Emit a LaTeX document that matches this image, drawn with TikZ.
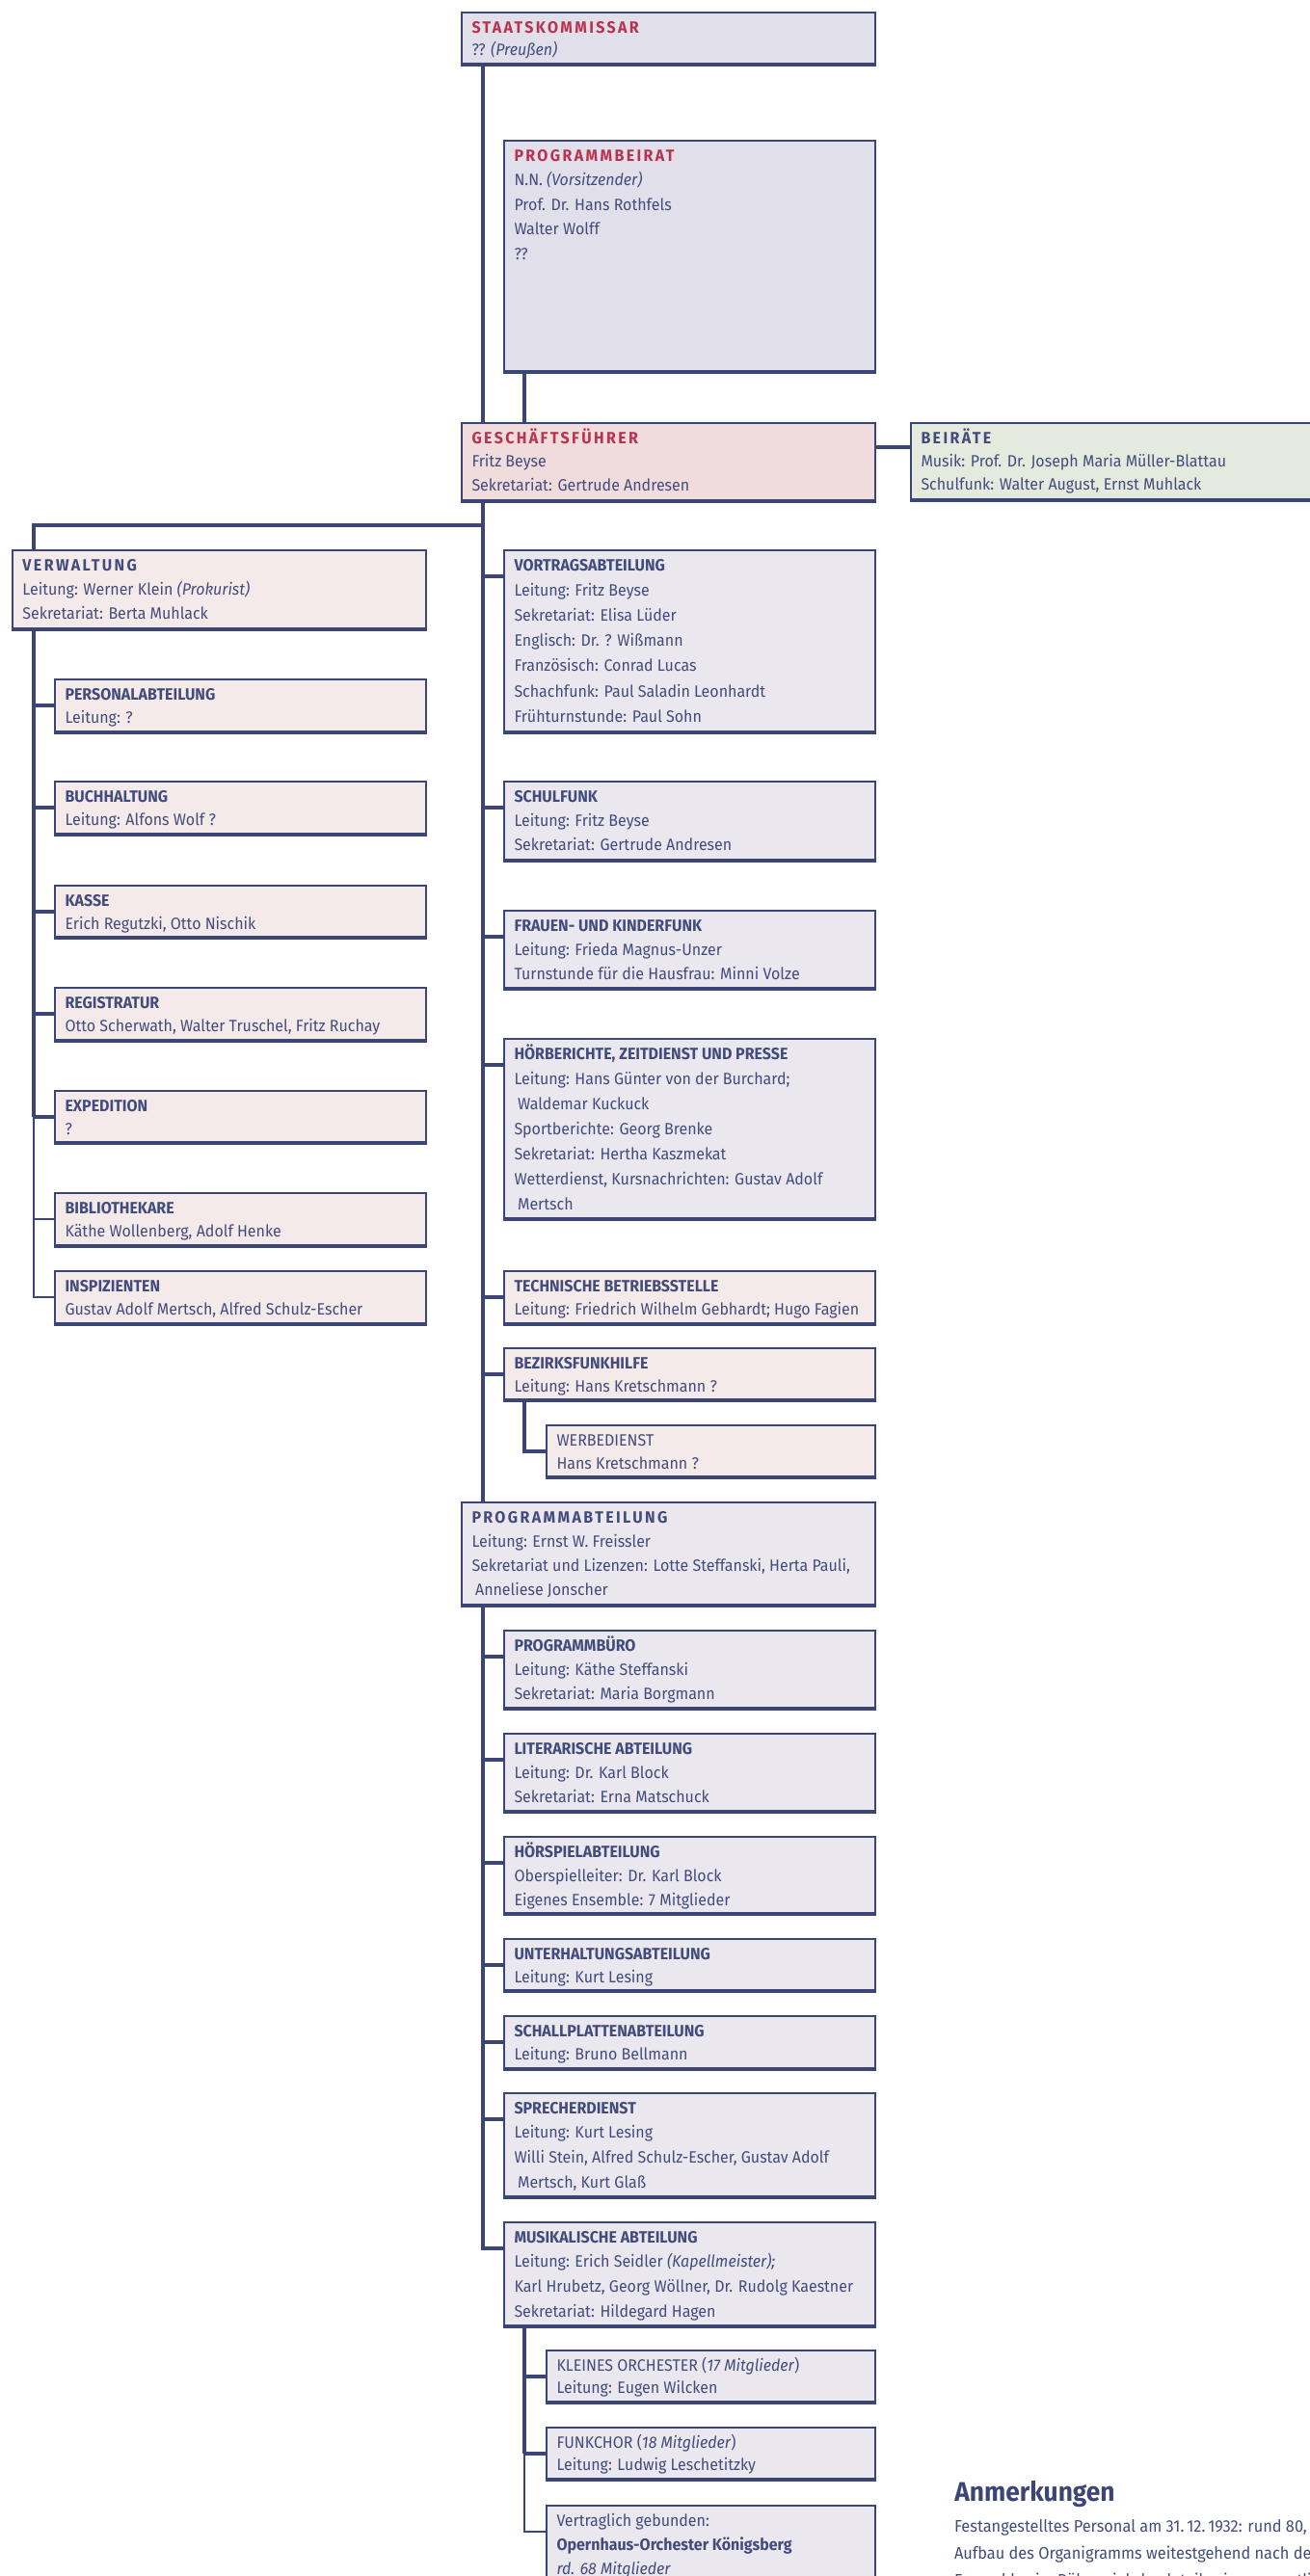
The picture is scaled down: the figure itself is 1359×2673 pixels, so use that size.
\documentclass[tikz,border=0pt]{standalone}
\usepackage{fontspec}
\setmainfont{Fira Sans}[FakeStretch=0.94]
\newfontfamily\widefont{Fira Sans}[LetterSpace=14,FakeStretch=0.94]
\usetikzlibrary{backgrounds}
\definecolor{navy}{HTML}{3C4676}
\definecolor{tnavy}{HTML}{424C7C}
\definecolor{hred}{HTML}{B8334F}
\definecolor{lavtop}{HTML}{E1E0EA}
\definecolor{lav}{HTML}{EAE7EF}
\definecolor{pinkl}{HTML}{F5EAEA}
\definecolor{pinkgf}{HTML}{F0DCDC}
\definecolor{greenl}{HTML}{E5EADF}
\newcommand\hred[1]{{\widefont\bfseries\color{hred}#1}}
\newcommand\hwide[1]{{\widefont\bfseries #1}}
\newcommand\hsub[1]{{\bfseries #1}}
\newcommand\ind{\hspace*{1.8pt}}
\tikzset{
  box/.style={draw=navy, line width=1.1pt, inner sep=0pt, outer sep=0pt, anchor=north west},
  txt/.style={inner sep=0pt, outer sep=0pt, anchor=north west, align=left, text=tnavy},
  conn/.style={draw=navy, line width=1.6pt, line join=miter},
  thinconn/.style={draw=navy, line width=0.8pt, line join=miter},
}
% name, x1, y1, x2, y2, fill, baselineskip, content
\newcommand\orgbox[8]{%
  \node[box, fill=#6, minimum width={(#4-#2)*0.5pt}, minimum height={(#5-#3)*0.5pt}] (#1) at (#2,#3) {};
  \draw[navy, line width=1.8pt] ([yshift=0.45pt]#1.south west) -- ([yshift=0.45pt]#1.south east);
  \coordinate (#1s) at ([yshift=-13.5pt]#1.north west);
  \node[txt, font=\fontsize{8.5}{#7}\selectfont] (#1t) at ([xshift=5.25pt,yshift=-1.5pt]#1.north west) {\rule{0pt}{9pt}#8};
}
\begin{document}
\begin{tikzpicture}[x=0.5pt, y=-0.5pt]
\useasboundingbox (0,0) rectangle (1359,2673);
\clip (0,0) rectangle (1359,2673);

% top
\orgbox{staats}{479}{13}{908}{68}{lavtop}{11.5pt}{\hred{STAATSKOMMISSAR}\\?? \textit{(Preußen)}}
\orgbox{pbeirat}{523}{146}{908}{387}{lavtop}{12.75pt}{\hred{PROGRAMMBEIRAT}\\N.N. \textit{(Vorsitzender)}\\Prof. Dr. Hans Rothfels\\Walter Wolff\\??}
\orgbox{gf}{479}{439}{908}{521}{pinkgf}{12.4pt}{\hred{GESCHÄFTSFÜHRER}\\Fritz Beyse\\Sekretariat: Gertrude Andresen}
\orgbox{beirate}{945}{439}{1420}{520}{greenl}{12pt}{\hwide{BEIRÄTE}\\Musik: Prof. Dr. Joseph Maria Müller-Blattau\\Schulfunk: Walter August, Ernst Muhlack}

% left column
\orgbox{verw}{13}{571}{442}{654}{pinkl}{12.5pt}{\hwide{VERWALTUNG}\\Leitung: Werner Klein \textit{(Prokurist)}\\Sekretariat: Berta Muhlack}
\orgbox{personal}{57}{705}{442}{761}{pinkl}{12pt}{\hsub{PERSONALABTEILUNG}\\Leitung: ?}
\orgbox{buch}{57}{811}{442}{867}{pinkl}{12pt}{\hsub{BUCHHALTUNG}\\Leitung: Alfons Wolf ?}
\orgbox{kasse}{57}{919}{442}{974}{pinkl}{12pt}{\hsub{KASSE}\\Erich Regutzki, Otto Nischik}
\orgbox{regis}{57}{1025}{442}{1081}{pinkl}{12pt}{\hsub{REGISTRATUR}\\Otto Scherwath, Walter Truschel, Fritz Ruchay}
\orgbox{exped}{57}{1132}{442}{1187}{pinkl}{12pt}{\hsub{EXPEDITION}\\?}
\orgbox{biblio}{57}{1238}{442}{1294}{pinkl}{12pt}{\hsub{BIBLIOTHEKARE}\\Käthe Wollenberg, Adolf Henke}
\orgbox{inspiz}{57}{1319}{442}{1375}{pinkl}{12pt}{\hsub{INSPIZIENTEN}\\Gustav Adolf Mertsch, Alfred Schulz-Escher}

% right column
\orgbox{vortrag}{523}{571}{908}{761}{lav}{13.1pt}{\hsub{VORTRAGSABTEILUNG}\\Leitung: Fritz Beyse\\Sekretariat: Elisa Lüder\\Englisch: Dr. ? Wißmann\\Französisch: Conrad Lucas\\Schachfunk: Paul Saladin Leonhardt\\Frühturnstunde: Paul Sohn}
\orgbox{schulfunk}{523}{811}{908}{894}{lav}{12.6pt}{\hsub{SCHULFUNK}\\Leitung: Fritz Beyse\\Sekretariat: Gertrude Andresen}
\orgbox{frauen}{523}{945}{908}{1027}{lav}{12.5pt}{\hsub{FRAUEN- UND KINDERFUNK}\\Leitung: Frieda Magnus-Unzer\\Turnstunde für die Hausfrau: Minni Volze}
\orgbox{hoer}{523}{1078}{908}{1266}{lav}{13pt}{\hsub{HÖRBERICHTE, ZEITDIENST UND PRESSE}\\Leitung: Hans Günter von der Burchard;\\\ind Waldemar Kuckuck\\Sportberichte: Georg Brenke\\Sekretariat: Hertha Kaszmekat\\Wetterdienst, Kursnachrichten: Gustav Adolf\\\ind Mertsch}
\orgbox{technik}{523}{1319}{908}{1375}{pinkl}{12pt}{\hsub{TECHNISCHE BETRIEBSSTELLE}\\Leitung: Friedrich Wilhelm Gebhardt; Hugo Fagien}
\orgbox{bezirk}{523}{1399}{908}{1454}{pinkl}{12pt}{\hsub{BEZIRKSFUNKHILFE}\\Leitung: Hans Kretschmann ?}
\orgbox{werbe}{567}{1479}{908}{1534}{pinkl}{12pt}{WERBEDIENST\\Hans Kretschmann ?}

% program department
\orgbox{progabt}{479}{1559}{908}{1667}{lav}{12.65pt}{\hwide{PROGRAMMABTEILUNG}\\Leitung: Ernst W. Freissler\\Sekretariat und Lizenzen: Lotte Steffanski, Herta Pauli,\\\ind Anneliese Jonscher}
\orgbox{progburo}{523}{1692}{908}{1774}{lav}{12.5pt}{\hsub{PROGRAMMBÜRO}\\Leitung: Käthe Steffanski\\Sekretariat: Maria Borgmann}
\orgbox{literar}{523}{1799}{908}{1881}{lav}{12.5pt}{\hsub{LITERARISCHE ABTEILUNG}\\Leitung: Dr. Karl Block\\Sekretariat: Erna Matschuck}
\orgbox{hoerspiel}{523}{1906}{908}{1987}{lav}{12.5pt}{\hsub{HÖRSPIELABTEILUNG}\\Oberspielleiter: Dr. Karl Block\\Eigenes Ensemble: 7 Mitglieder}
\orgbox{unterh}{523}{2012}{908}{2067}{lav}{12pt}{\hsub{UNTERHALTUNGSABTEILUNG}\\Leitung: Kurt Lesing}
\orgbox{schallpl}{523}{2092}{908}{2148}{lav}{12pt}{\hsub{SCHALLPLATTENABTEILUNG}\\Leitung: Bruno Bellmann}
\orgbox{sprecher}{523}{2172}{908}{2281}{lav}{12.85pt}{\hsub{SPRECHERDIENST}\\Leitung: Kurt Lesing\\Willi Stein, Alfred Schulz-Escher, Gustav Adolf\\\ind Mertsch, Kurt Glaß}
\orgbox{musik}{523}{2306}{908}{2415}{lav}{12.85pt}{\hsub{MUSIKALISCHE ABTEILUNG}\\Leitung: Erich Seidler \textit{(Kapellmeister);}\\Karl Hrubetz, Georg Wöllner, Dr. Rudolg Kaestner\\Sekretariat: Hildegard Hagen}
\orgbox{kleines}{567}{2439}{908}{2494}{lav}{11.5pt}{KLEINES ORCHESTER (\textit{17 Mitglieder})\\Leitung: Eugen Wilcken}
\orgbox{funkchor}{567}{2519}{908}{2574}{lav}{11.5pt}{FUNKCHOR (\textit{18 Mitglieder})\\Leitung: Ludwig Leschetitzky}
\orgbox{vertrag}{567}{2600}{908}{2740}{lav}{12.5pt}{Vertraglich gebunden:\\\textbf{Opernhaus-Orchester Königsberg}\\\textit{rd. 68 Mitglieder}}

% notes
\node[anchor=base west, inner sep=0pt, text=navy, font=\fontsize{14}{16}\selectfont\bfseries] (anm) at (990,2595) {Anmerkungen};
\node[txt, font=\fontsize{8.7}{14}\selectfont] (anmtext) at (990,2609) {\rule{0pt}{9pt}Festangestelltes Personal am 31.\,12.\,1932: rund 80, d\\Aufbau des Organigramms weitestgehend nach der\\Ensembles im Bühnenjahrbuch teilweise namentlich};

% connectors
\begin{scope}[on background layer]
  \draw[conn] ([xshift=11pt]staats.south west) -- ([xshift=11pt]gf.north west);
  \draw[conn] ([xshift=10.5pt]pbeirat.south west) -- ([xshift=10.5pt]pbeirat.south west |- gf.north);
  \draw[conn] ([yshift=-12.5pt]gf.north east) -- ([yshift=-12.5pt]gf.north east -| beirate.west);
  \coordinate (T) at ([xshift=11pt]gf.south west);
  \coordinate (jL) at (501,545);
  \coordinate (jLL) at (35,545);
  \draw[conn] (T) -- (T |- progabt.north);
  \draw[conn] (jL) -- (jLL) -- (jLL |- expeds);
  \foreach \b in {personal,buch,kasse,regis,exped}
    \draw[conn] (jLL |- \b s) -- (\b s);
  \draw[thinconn] (jLL |- expeds) -- (jLL |- inspizs) -- (inspizs);
  \draw[thinconn] (jLL |- biblios) -- (biblios);
  \foreach \b in {vortrag,schulfunk,frauen,hoer,technik,bezirk}
    \draw[conn] (T |- \b s) -- (\b s);
  \coordinate (W) at ([xshift=10.5pt]bezirk.south west);
  \draw[conn] (W) -- (W |- werbes) -- (werbes);
  \coordinate (P) at ([xshift=11pt]progabt.south west);
  \draw[conn] (P) -- (P |- musiks) -- (musiks);
  \foreach \b in {progburo,literar,hoerspiel,unterh,schallpl,sprecher}
    \draw[conn] (P |- \b s) -- (\b s);
  \coordinate (M) at ([xshift=10.5pt]musik.south west);
  \draw[conn] (M) -- (M |- funkchors);
  \foreach \b in {kleines,funkchor}
    \draw[conn] (M |- \b s) -- (\b s);
  \draw[thinconn] (M |- funkchors) -- (M |- vertrags) -- (vertrags);
\end{scope}
\end{tikzpicture}
\end{document}
